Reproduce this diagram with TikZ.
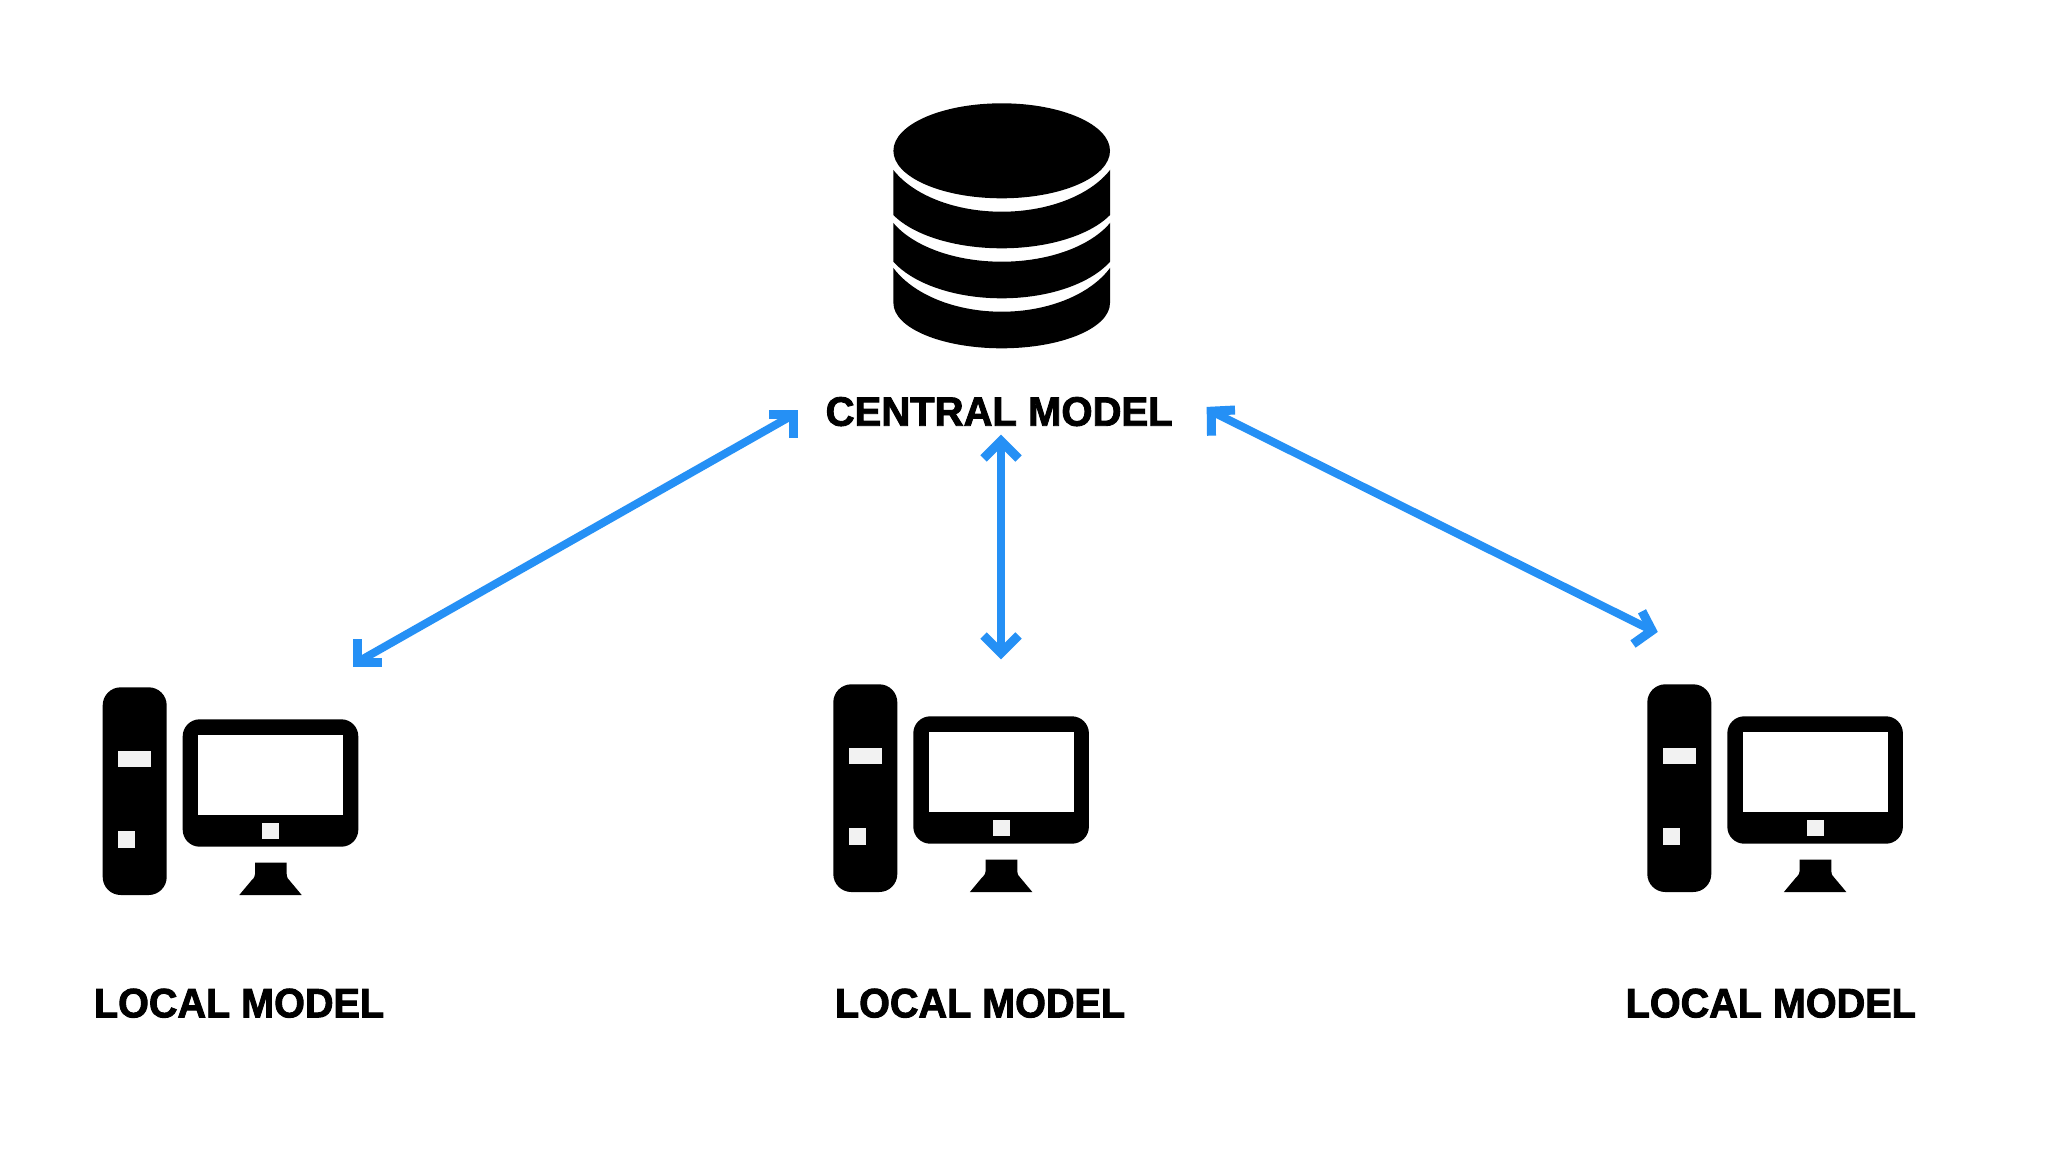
\documentclass[tikz,border=0pt]{standalone}
\usepackage{fontspec}
\setmainfont[BoldFeatures={FakeBold=2.2,FakeStretch=0.965}]{Liberation Sans}
\definecolor{arrowblue}{HTML}{2590F5}
\definecolor{slotgrey}{HTML}{F2F2F2}
\tikzset{
  x=1pt,y=-1pt,
  label text/.style={anchor=base west,inner sep=0pt,outer sep=0pt,text=black,font=\fontsize{41}{41}\selectfont\bfseries},
  blueline/.style={draw=arrowblue,line width=8pt,line cap=butt},
  bluehead/.style={draw=arrowblue,line width=9pt,line join=miter,line cap=butt},
  pics/computer/.style={code={
    \fill[black,rounded corners=18pt] (102.7,687.3) rectangle (166.7,895);
    \fill[slotgrey] (118.3,750.7) rectangle (151,767.3);
    \fill[slotgrey] (118.3,831) rectangle (135,847.7);
    \fill[black,rounded corners=17pt] (182.7,719.3) rectangle (358.3,846.7);
    \fill[white] (198.3,734.7) rectangle (343.3,815.3);
    \fill[slotgrey] (262.3,823) rectangle (279,839.3);
    \fill[black] (255,862.7) -- (286.7,862.7) -- (286.7,874) .. controls (287,878) and (288,879) .. (290,881) -- (301.7,895) -- (239.3,895) -- (251,881) .. controls (253,879) and (254.5,878) .. (255,874) -- cycle;
  }}
}
\begin{document}
\begin{tikzpicture}
\useasboundingbox (0,0) rectangle (2048,1152);
\fill[white] (0,0) rectangle (2048,1152);
% database
\fill[black] (1001.7,150.8) circle [x radius=108.3,y radius=47.5];
\begin{scope}
\clip (893.3,100) rectangle (1110,360);
\fill[black] (881.7,138.4) arc [start angle=180,end angle=0,x radius=120,y radius=73.3] -- (1121.7,189.8) arc [start angle=0,end angle=180,x radius=120,y radius=58.5] -- cycle;
\fill[black] (881.7,193.7) arc [start angle=180,end angle=0,x radius=120,y radius=68] -- (1121.7,234) arc [start angle=0,end angle=180,x radius=120,y radius=64.3] -- cycle;
\fill[black] (881.7,234.9) arc [start angle=180,end angle=0,x radius=120,y radius=76.8] -- (1110,303) arc [start angle=0,end angle=180,x radius=108.3,y radius=45.3] -- cycle;
\end{scope}
% computers
\pic at (0,0) {computer};
\pic at (730.6,-3) {computer};
\pic at (1544.6,-3) {computer};
% labels
\node[label text] (central) at (825.7,425.7) {\scalebox{1.012}[1]{CENTRAL MODEL}};
\node[label text] (localA) at (94,1017.3) {LOCAL MODEL};
\node[label text] (localB) at (835,1017.3) {LOCAL MODEL};
\node[label text] (localC) at (1625.7,1017.3) {LOCAL MODEL};
% connector ends
\coordinate (aTop) at (793.8,414.5);
\coordinate (aBot) at (357.2,662.2);
\coordinate (bTop) at (1001,441);
\coordinate (bBot) at (1001,653);
\coordinate (cTop) at (1211.2,411.2);
\coordinate (cBot) at (1652,630.5);
\draw[blueline] (aTop) -- (aBot);
\draw[blueline] (bTop) -- (bBot);
\draw[blueline] (cTop) -- (cBot);
% heads
\draw[bluehead] (769.3,414.5) -- (aTop) -- (793.8,438.3);
\draw[bluehead] (381.7,662.2) -- (aBot) -- (357.2,639);
\draw[bluehead] (983.5,458.5) -- (bTop) -- (1018.5,458.5);
\draw[bluehead] (983.5,635.5) -- (bBot) -- (1018.5,635.5);
\draw[bluehead] (1235,410) -- (cTop) -- (1211.5,435.7);
\draw[bluehead] (1642,611.3) -- (cBot) -- (1633,644);
\end{tikzpicture}
\end{document}
